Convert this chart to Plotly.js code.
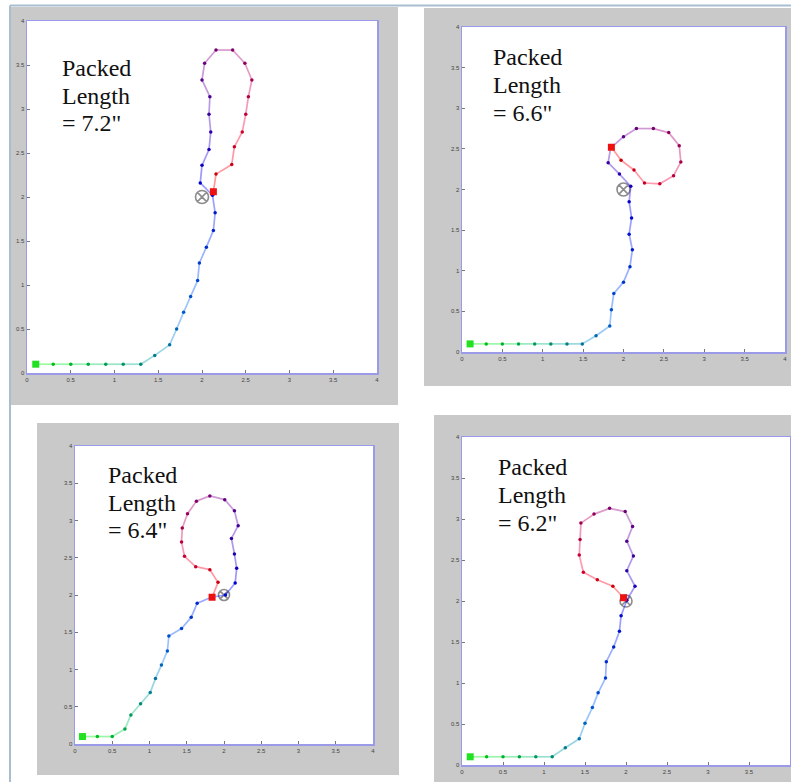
<!DOCTYPE html>
<html>
<head>
<meta charset="utf-8">
<script src="https://cdn.plot.ly/plotly-3.0.1.min.js"></script>
<style>html,body{margin:0;padding:0;background:#fff;}#chart{width:791px;height:782px;}</style>
</head>
<body>
<div id="chart"></div>
<script>
// ---- data ----
const targetX = [2];
const targetY = [2];

const p1x = [0.1,0.3,0.5,0.7,0.9,1.1,1.3,1.46,1.63,1.71,1.79,1.87,1.95,1.97,2.05,2.13,2.15,2.12,1.98,2.00,2.08,2.10,2.08,2.09,2.00,2.03,2.16,2.35,2.49,2.57,2.53,2.50,2.46,2.37,2.34,2.16,2.13];
const p1y = [0.1,0.1,0.1,0.1,0.1,0.1,0.1,0.2,0.32,0.50,0.69,0.87,1.05,1.25,1.43,1.62,1.82,2.02,2.16,2.36,2.54,2.74,2.94,3.14,3.33,3.52,3.67,3.67,3.52,3.33,3.14,2.94,2.74,2.57,2.37,2.26,2.06];

const p2x = [0.1,0.3,0.5,0.7,0.9,1.1,1.3,1.49,1.66,1.83,1.85,1.88,2.00,2.08,2.11,2.07,2.10,2.07,2.09,1.95,1.81,1.84,2.00,2.16,2.37,2.56,2.69,2.71,2.62,2.45,2.26,2.13,1.97,1.85];
const p2y = [0.1,0.1,0.1,0.1,0.1,0.1,0.1,0.1,0.20,0.32,0.52,0.72,0.86,1.05,1.26,1.45,1.65,1.85,2.04,2.19,2.33,2.51,2.65,2.75,2.75,2.70,2.54,2.34,2.17,2.07,2.08,2.24,2.36,2.52];

const p3x = [0.1,0.3,0.5,0.67,0.75,0.88,1.01,1.08,1.16,1.24,1.26,1.43,1.56,1.64,1.83,2.02,2.15,2.17,2.14,2.10,2.19,2.14,2.01,1.81,1.63,1.51,1.44,1.43,1.47,1.62,1.81,1.92,1.84];
const p3y = [0.1,0.1,0.1,0.20,0.39,0.54,0.69,0.88,1.06,1.25,1.45,1.55,1.70,1.89,1.97,2.00,2.16,2.36,2.55,2.76,2.93,3.13,3.28,3.33,3.26,3.09,2.90,2.71,2.52,2.38,2.34,2.17,1.97];

const p4x = [0.1,0.3,0.5,0.7,0.9,1.1,1.26,1.43,1.50,1.59,1.66,1.75,1.76,1.85,1.92,1.94,2.01,2.11,2.01,2.09,2.01,2.08,1.99,1.80,1.61,1.45,1.44,1.43,1.48,1.65,1.84,1.97];
const p4y = [0.1,0.1,0.1,0.1,0.1,0.1,0.21,0.32,0.51,0.70,0.88,1.06,1.26,1.44,1.63,1.82,2.01,2.18,2.37,2.55,2.73,2.91,3.09,3.13,3.06,2.95,2.75,2.56,2.35,2.26,2.18,2.04];

const labelLine1 = 'Packed';
const labelLine2 = 'Length';
const packedLengths = ['= 7.2"', '= 6.6"', '= 6.4"', '= 6.2"'];

const tickVals = [0,0.5,1,1.5,2,2.5,3,3.5,4];
const tickText = ['0','0.5','1','1.5','2','2.5','3','3.5','4'];

// ---- layout geometry (pixels) ----
const W = 791, H = 782;
const fx = v => v / W, fy = v => 1 - v / H;
const geo = [
  {plot:[27,21,377,373],  frame:[11,7,398,405],   tx:60,  ty:[68,96,123],  ts:13},
  {plot:[462,27,785,352], frame:[424,8,791,386],  tx:491, ty:[57,85,113],  ts:13},
  {plot:[75,446,373,744], frame:[37,423,399,775], tx:106, ty:[475,503,530],ts:11},
  {plot:[462,437,790,765],frame:[434,415,791,782],tx:496, ty:[467,495,523],ts:12}
];
const series = [[p1x,p1y],[p2x,p2y],[p3x,p3y],[p4x,p4y]];

function cmap(t) {
  if (t <= 0.5) { const s = t / 0.5; return [0, 255 * (1 - s), 255 * Math.min(1, 1.8 * s)]; }
  const s = (t - 0.5) / 0.5; return [255 * Math.min(1, 1.3 * s), 0, 255 * (1 - s)];
}
const rgba = (c, a) => `rgba(${Math.round(c[0])},${Math.round(c[1])},${Math.round(c[2])},${a})`;

const traces = [];
const layout = {
  width: W, height: H,
  margin: {l:0, r:0, t:0, b:0},
  paper_bgcolor: '#ffffff', plot_bgcolor: '#ffffff',
  showlegend: false,
  shapes: [], annotations: []
};

geo.forEach((g, k) => {
  const n = k + 1;
  const xa = n === 1 ? 'x' : 'x' + n, ya = n === 1 ? 'y' : 'y' + n;
  const xk = n === 1 ? 'xaxis' : 'xaxis' + n, yk = n === 1 ? 'yaxis' : 'yaxis' + n;
  const axBase = {
    range: [0, 4], tickvals: tickVals, ticktext: tickText,
    showgrid: false, zeroline: false, showline: true, mirror: true,
    linecolor: '#9a9ae8', linewidth: 1.5,
    ticks: 'inside', ticklen: 3, tickcolor: '#777', tickwidth: 1,
    tickfont: {family: 'Arial, Liberation Sans', size: 6, color: '#444'},
    fixedrange: true
  };
  layout[xk] = Object.assign({}, axBase, {domain: [fx(g.plot[0]), fx(g.plot[2])], anchor: ya});
  layout[yk] = Object.assign({}, axBase, {domain: [fy(g.plot[3]), fy(g.plot[1])], anchor: xa});

  // gray frame and white plot area
  layout.shapes.push({type:'rect', xref:'paper', yref:'paper', layer:'below',
    x0: fx(g.frame[0]), x1: fx(g.frame[2]), y0: fy(g.frame[3]), y1: fy(g.frame[1]),
    fillcolor:'#c9c9c9', line:{width:0}});
  layout.shapes.push({type:'rect', xref:'paper', yref:'paper', layer:'below',
    x0: fx(g.plot[0]), x1: fx(g.plot[2]), y0: fy(g.plot[3]), y1: fy(g.plot[1]),
    fillcolor:'#ffffff', line:{width:0}});

  // text
  [labelLine1, labelLine2, packedLengths[k]].forEach((txt, i) => {
    layout.annotations.push({xref:'paper', yref:'paper', x: fx(g.tx), y: fy(g.ty[i]),
      xanchor:'left', yanchor:'middle', showarrow:false, align:'left', text: txt,
      font:{family:'Liberation Serif, Times New Roman, serif', size:24, color:'#111'}});
  });

  const xs = series[k][0], ys = series[k][1];
  const N = xs.length;

  // target marker
  traces.push({type:'scatter', mode:'markers', x: targetX, y: targetY, xaxis: xa, yaxis: ya,
    marker:{symbol:'circle-x-open', size:g.ts, color:'#8c8c8c', line:{width:1.6, color:'#8c8c8c'}},
    hoverinfo:'skip'});

  // colored segments
  for (let i = 0; i < N - 1; i++) {
    const c = cmap((i + 0.5) / (N - 1));
    traces.push({type:'scatter', mode:'lines', x:[xs[i], xs[i+1]], y:[ys[i], ys[i+1]],
      xaxis: xa, yaxis: ya, line:{color: rgba(c, 0.4), width: 1.7}, hoverinfo:'skip'});
  }
  // dots
  traces.push({type:'scatter', mode:'markers', x: xs, y: ys, xaxis: xa, yaxis: ya,
    marker:{size:3.5, color: xs.map((_, i) => rgba(cmap(i / (N - 1)).map(v => v * 0.8), 1))},
    hoverinfo:'skip'});
  // start and end
  traces.push({type:'scatter', mode:'markers', x:[xs[0]], y:[ys[0]], xaxis: xa, yaxis: ya,
    marker:{symbol:'square', size:7, color:'#22e022', line:{width:0}}, hoverinfo:'skip'});
  traces.push({type:'scatter', mode:'markers', x:[xs[N-1]], y:[ys[N-1]], xaxis: xa, yaxis: ya,
    marker:{symbol:'square', size:7, color:'#ee1111', line:{width:0}}, hoverinfo:'skip'});
});

// outer border lines
layout.shapes.push({type:'line', xref:'paper', yref:'paper', x0: fx(10), x1: 1, y0: fy(5.5), y1: fy(5.5),
  line:{color:'#a9bdd0', width:2}});
layout.shapes.push({type:'line', xref:'paper', yref:'paper', x0: fx(10), x1: fx(10), y0: 0, y1: fy(5.5),
  line:{color:'#a9bdd0', width:2}});

Plotly.newPlot('chart', traces, layout, {displayModeBar:false, staticPlot:true});
</script>
</body>
</html>
